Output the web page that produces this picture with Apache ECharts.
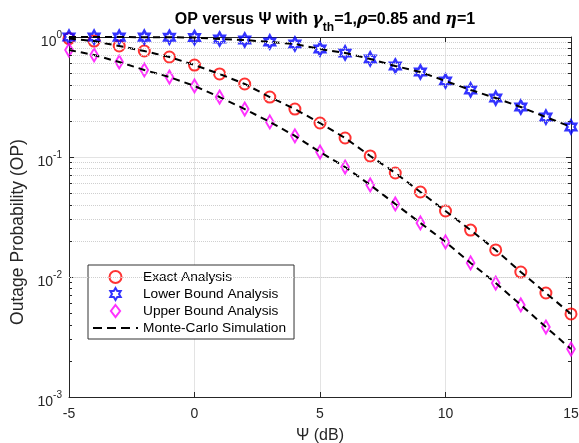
<!DOCTYPE html>
<html>
<head>
<meta charset="utf-8">
<script src="https://cdn.jsdelivr.net/npm/echarts@6/dist/echarts.min.js"></script>
<style>
html,body{margin:0;padding:0;background:#fff;}
#c{width:579px;height:443px;}
</style>
</head>
<body>
<div id="c"></div>
<script>
// ---- data ----
const psi = [-5,-4,-3,-2,-1,0,1,2,3,4,5,6,7,8,9,10,11,12,13,14,15];
const exactOP = [0.97,0.925,0.841,0.764,0.681,0.584,0.492,0.406,0.316,0.251,0.192,0.144,0.102,0.0736,0.0511,0.0355,0.0246,0.0168,0.0110,0.00736,0.00492];
const lowerOP = [0.999,0.999,0.998,0.997,0.995,0.99,0.962,0.944,0.909,0.874,0.794,0.736,0.656,0.573,0.511,0.430,0.362,0.310,0.261,0.215,0.178];
const upperOP = [0.779,0.708,0.619,0.531,0.464,0.391,0.316,0.251,0.196,0.150,0.110,0.0825,0.0585,0.0406,0.0282,0.0196,0.0131,0.00891,0.00585,0.00383,0.00251];
const mcExact = [0.97,0.925,0.841,0.764,0.681,0.584,0.492,0.406,0.316,0.251,0.192,0.144,0.102,0.0736,0.0511,0.0355,0.0246,0.0168,0.0110,0.00736,0.00492];
const mcLower = [0.999,0.999,0.998,0.997,0.995,0.99,0.962,0.944,0.909,0.874,0.794,0.736,0.656,0.573,0.511,0.430,0.362,0.310,0.261,0.215,0.178];
const mcUpper = [0.779,0.708,0.619,0.531,0.464,0.391,0.316,0.251,0.196,0.150,0.110,0.0825,0.0585,0.0406,0.0282,0.0196,0.0131,0.00891,0.00585,0.00383,0.00251];
const xTicks = [-5,0,5,10,15];
const yDecades = [0.001,0.01,0.1,1];
const yMinorMultipliers = [2,3,4,5,6,7,8,9];

const FONT = "'Liberation Sans', Arial, sans-serif";
const AX = '#262626';
const pairs = (xs, ys) => xs.map((x, i) => [x, ys[i]]);

const minorVals = [];
yDecades.slice(0, 3).forEach(d => yMinorMultipliers.forEach(m => minorVals.push(+(d * m).toPrecision(3))));

const hexStar = 'path://M50 0 L64.43 25 L93.3 25 L78.87 50 L93.3 75 L64.43 75 L50 100 L35.57 75 L6.7 75 L21.13 50 L6.7 25 L35.57 25 Z';
const diamondPath = 'path://M5 0 L10 6.5 L5 13 L0 6.5 Z';
const dashIcon = 'path://M0 0 L9 0 L9 2 L0 2 Z M14 0 L23 0 L23 2 L14 2 Z M28 0 L37 0 L37 2 L28 2 Z M43 0 L45 0 L45 2 L43 2 Z';

const minorGrid = minorVals.map(v => ({ yAxis: v }));
const minorTicks = [];
minorVals.forEach(v => {
  minorTicks.push([{ coord: [xTicks[0], v] }, { coord: [xTicks[0] + 0.12, v] }]);
  minorTicks.push([{ coord: [xTicks[xTicks.length - 1] - 0.12, v] }, { coord: [xTicks[xTicks.length - 1], v] }]);
});

const chart = echarts.init(document.getElementById('c'), null, { renderer: 'canvas' });
chart.setOption({
  animation: false,
  backgroundColor: '#fff',
  textStyle: { fontFamily: FONT },
  title: {
    left: 320, top: 7, textAlign: 'center',
    text: '{b|OP versus Ψ with }{g|γ}{s|th}{b|=1,}{g|ρ}{b|=0.85 and }{g|η}{b|=1}',
    textStyle: {
      rich: {
        b: { fontFamily: FONT, fontSize: 16, fontWeight: 'bold', color: '#000', lineHeight: 20, verticalAlign: 'top' },
        g: { fontFamily: "'DejaVu Serif', serif", fontSize: 16, fontStyle: 'italic', color: '#000', lineHeight: 20, verticalAlign: 'top' },
        s: { fontFamily: FONT, fontSize: 12, fontWeight: 'bold', color: '#000', lineHeight: 14, verticalAlign: 'top', padding: [10, 0, 0, 0] }
      }
    }
  },
  grid: { left: 69, right: 8, top: 37, bottom: 46, containLabel: false, outerBoundsMode: 'none' },
  xAxis: [{
    type: 'value', min: -5, max: 15, interval: 5,
    name: 'Ψ (dB)', nameLocation: 'middle', nameGap: 31,
    nameTextStyle: { fontFamily: FONT, fontSize: 16, color: AX },
    axisLine: { show: true, onZero: false, lineStyle: { color: AX, width: 1 } },
    axisTick: { show: true, inside: true, length: 5, lineStyle: { color: AX } },
    axisLabel: { fontFamily: FONT, fontSize: 14, color: AX, margin: 10 },
    splitLine: { show: true, lineStyle: { color: '#e3e3e3', width: 1 } }
  }, {
    type: 'value', position: 'top', min: -5, max: 15, interval: 5,
    axisLine: { show: true, onZero: false, lineStyle: { color: AX, width: 1 } },
    axisTick: { show: true, inside: true, length: 5, lineStyle: { color: AX } },
    axisLabel: { show: false }, splitLine: { show: false }
  }],
  yAxis: [{
    type: 'log', logBase: 10, min: 0.001, max: 1, interval: 1,
    axisLine: { show: true, onZero: false, lineStyle: { color: AX, width: 1 } },
    axisTick: { show: true, inside: true, length: 5, lineStyle: { color: AX } },
    axisLabel: {
      margin: 7, color: AX,
      formatter: v => '{a|10}{e|' + Math.round(Math.log10(v)) + '}',
      rich: {
        a: { fontFamily: FONT, fontSize: 14, color: AX, lineHeight: 20, verticalAlign: 'top', padding: [8, 0, 0, 0] },
        e: { fontFamily: FONT, fontSize: 10, color: AX, lineHeight: 10, verticalAlign: 'top', padding: [3, 0, 0, 0] }
      }
    },
    splitLine: { show: true, lineStyle: { color: '#e3e3e3', width: 1 } }
  }, {
    type: 'log', logBase: 10, min: 0.001, max: 1, interval: 1, position: 'right',
    axisLine: { show: true, onZero: false, lineStyle: { color: AX, width: 1 } },
    axisTick: { show: true, inside: true, length: 5, lineStyle: { color: AX } },
    axisLabel: { show: false }, splitLine: { show: false }
  }],
  graphic: [{
    type: 'text', x: 18, y: 232, rotation: Math.PI / 2,
    style: { text: 'Outage Probability (OP)', fontFamily: FONT, fontSize: 17.5, fill: AX, align: 'center', verticalAlign: 'middle' }
  }],
  legend: {
    left: 88, top: 265, orient: 'vertical',
    backgroundColor: '#fff', borderColor: '#333', borderWidth: 1,
    padding: [5, 8, 4, 5], itemWidth: 45, itemHeight: 12, itemGap: 3,
    symbolKeepAspect: true,
    textStyle: { fontFamily: FONT, fontSize: 13.7, lineHeight: 14, color: '#000' },
    data: [
      { name: 'Exact Analysis' },
      { name: 'Lower Bound Analysis' },
      { name: 'Upper Bound Analysis', icon: diamondPath },
      { name: 'Monte-Carlo Simulation', icon: dashIcon, itemStyle: { color: '#000', borderWidth: 0 } }
    ]
  },
  series: [
    {
      name: 'grid-minor', type: 'line', data: [], silent: true,
      markLine: {
        silent: true, symbol: 'none', label: { show: false },
        lineStyle: { color: '#cfcfcf', type: 'dotted', width: 1 },
        data: minorGrid
      }
    },
    {
      name: 'tick-minor', type: 'line', data: [], silent: true,
      markLine: {
        silent: true, symbol: 'none', label: { show: false },
        lineStyle: { color: AX, type: 'solid', width: 1 },
        data: minorTicks
      }
    },
    {
      name: 'Exact Analysis', type: 'scatter', data: pairs(psi, exactOP),
      symbol: 'circle', symbolSize: 11, z: 3,
      itemStyle: { color: 'rgba(255,255,255,0)', borderColor: '#ff0000', borderWidth: 2 }
    },
    {
      name: 'Lower Bound Analysis', type: 'scatter', data: pairs(psi, lowerOP),
      symbol: hexStar, symbolSize: [12, 13], z: 3, symbolKeepAspect: true,
      itemStyle: { color: 'rgba(255,255,255,0)', borderColor: '#0000ff', borderWidth: 2.5 }
    },
    {
      name: 'Upper Bound Analysis', type: 'scatter', data: pairs(psi, upperOP),
      symbol: diamondPath, symbolSize: [10, 13], z: 3, symbolKeepAspect: true,
      itemStyle: { color: 'rgba(255,255,255,0)', borderColor: '#ff00ff', borderWidth: 2 }
    },
    {
      name: 'Monte-Carlo Simulation', type: 'line', data: pairs(psi, mcExact), symbol: 'none', z: 4,
      itemStyle: { color: '#000' }, lineStyle: { color: '#000', width: 2, type: [7, 5] }
    },
    {
      name: 'Monte-Carlo Simulation', type: 'line', data: pairs(psi, mcLower), symbol: 'none', z: 4,
      itemStyle: { color: '#000' }, lineStyle: { color: '#000', width: 2, type: [7, 5] }
    },
    {
      name: 'Monte-Carlo Simulation', type: 'line', data: pairs(psi, mcUpper), symbol: 'none', z: 4,
      itemStyle: { color: '#000' }, lineStyle: { color: '#000', width: 2, type: [7, 5] }
    }
  ]
});
</script>
</body>
</html>
